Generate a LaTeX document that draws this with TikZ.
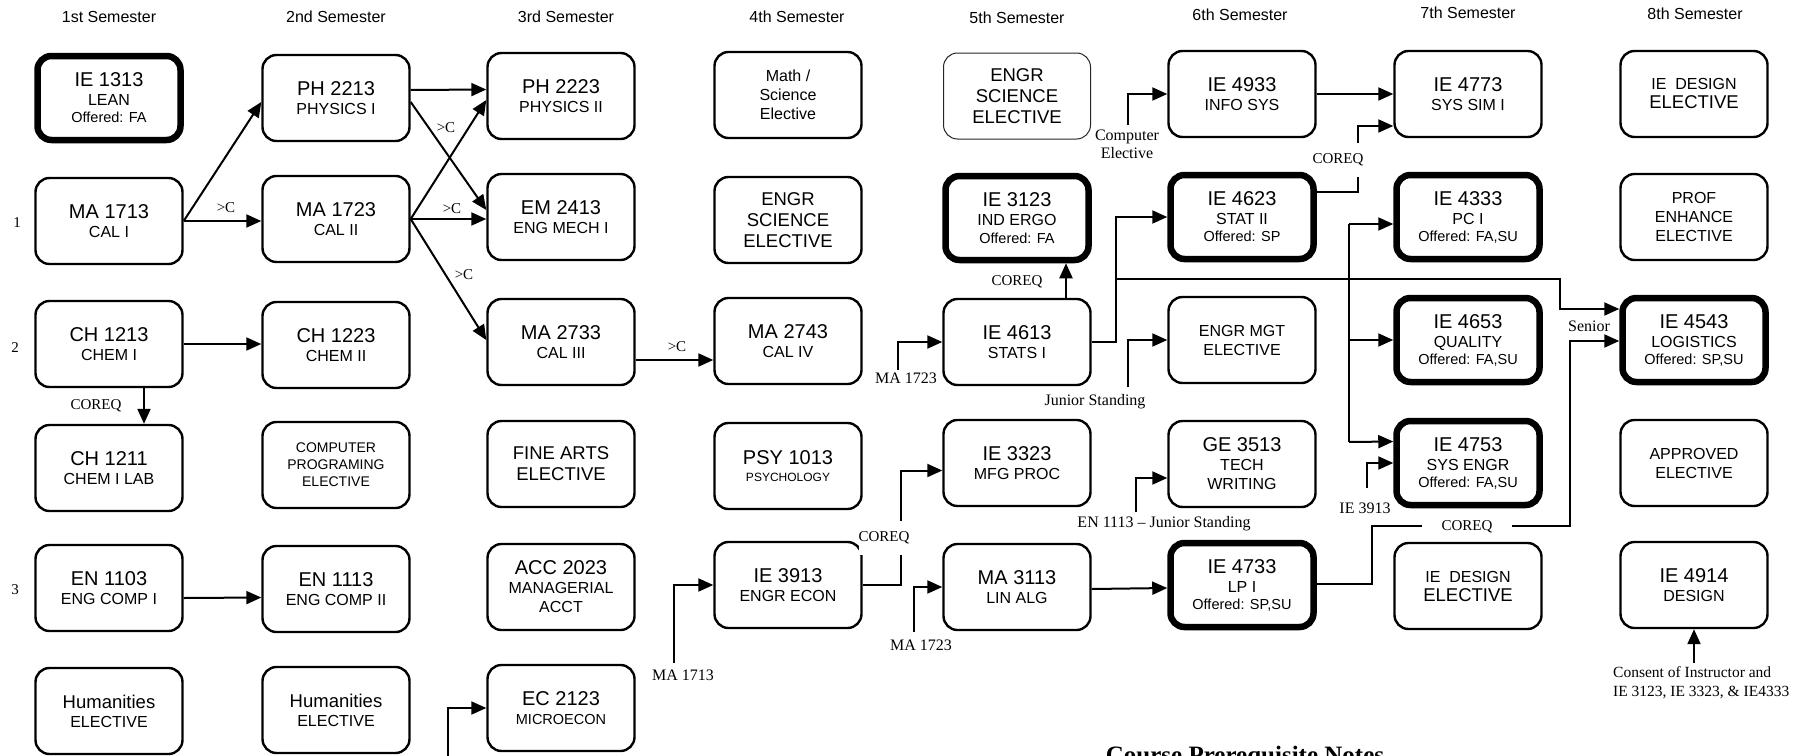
\documentclass[tikz,border=0pt]{standalone}
\usepackage{fontspec}
\setmainfont{Liberation Sans}
\newfontfamily\notefont{Liberation Serif}
\usetikzlibrary{arrows.meta,calc}
\newcommand\ccode[1]{{\fontsize{20}{22}\selectfont #1}}
\newcommand\offd[1]{{\fontsize{14.5}{17}\selectfont #1}}
\newcommand\bigt[1]{{\fontsize{18.5}{21}\selectfont #1}}
\tikzset{
 box/.style={draw, line width=2.4pt, rounded corners=14pt, minimum width=147pt, minimum height=86pt, align=center, inner sep=0pt, font=\fontsize{16}{19}\selectfont},
 tbox/.style={box, line width=6.5pt, minimum width=143pt, minimum height=84pt},
 lbox/.style={box, line width=1pt, draw=black!85},
 bigfont/.style={font=\fontsize{18.5}{21}\selectfont},
 arr/.style={line width=2pt, -{Triangle[length=15pt,width=13pt]}},
 ln/.style={line width=2pt},
 note/.style={font=\notefont\fontsize{16}{18}\selectfont, inner sep=1pt},
 cq/.style={font=\notefont\fontsize{15}{18}\selectfont, inner sep=1pt},
 sem/.style={font=\fontsize{16}{19}\selectfont, inner sep=0pt},
}
\begin{document}
\begin{tikzpicture}[x=1pt,y=-1pt]
\useasboundingbox (0,0) rectangle (1812,755);
\clip (0,0) rectangle (1812,755);
\fill[white] (0,0) rectangle (1812,755);
% headings
\node[sem] (h1) at (109,17) {1st Semester};
\node[sem] (h2) at (336,17) {2nd Semester};
\node[sem] (h3) at (566,17) {3rd Semester};
\node[sem] (h4) at (797,17) {4th Semester};
\node[sem] (h5) at (1017,18) {5th Semester};
\node[sem] (h6) at (1240,15) {6th Semester};
\node[sem] (h7) at (1468,13) {7th Semester};
\node[sem] (h8) at (1695,14) {8th Semester};
% row labels
\node[cq] (row1) at (17,223) {1};
\node[cq] (row2) at (15,348) {2};
\node[cq] (row3) at (15,590) {3};
% column 1
\node[tbox] (ie1313) at (109,98) {\ccode{IE 1313}\\LEAN\\[-2pt]\offd{Offered: FA}};
\node[box] (ma1713) at (109,221) {\ccode{MA 1713}\\CAL I};
\node[box] (ch1213) at (109,344) {\ccode{CH 1213}\\CHEM I};
\node[box] (ch1211) at (109,468) {\ccode{CH 1211}\\CHEM I LAB};
\node[box] (en1103) at (109,588) {\ccode{EN 1103}\\ENG COMP I};
\node[box] (hum1) at (109,711) {\bigt{Humanities}\\ELECTIVE};
% column 2
\node[box] (ph2213) at (336,98) {\ccode{PH 2213}\\PHYSICS I};
\node[box] (ma1723) at (336,219) {\ccode{MA 1723}\\CAL II};
\node[box] (ch1223) at (336,345) {\ccode{CH 1223}\\CHEM II};
\node[box, font=\fontsize{14}{17}\selectfont] (comp) at (336,465) {COMPUTER\\PROGRAMING\\ELECTIVE};
\node[box] (en1113) at (336,589) {\ccode{EN 1113}\\ENG COMP II};
\node[box] (hum2) at (336,710) {\bigt{Humanities}\\ELECTIVE};
% column 3
\node[box] (ph2223) at (561,96) {\ccode{PH 2223}\\PHYSICS II};
\node[box] (em2413) at (561,217) {\ccode{EM 2413}\\ENG MECH I};
\node[box] (ma2733) at (561,342) {\ccode{MA 2733}\\CAL III};
\node[box, bigfont] (finearts) at (561,464) {FINE ARTS\\ELECTIVE};
\node[box] (acc2023) at (561,587) {\ccode{ACC 2023}\\MANAGERIAL\\ACCT};
\node[box] (ec2123) at (561,708) {\ccode{EC 2123}\\\offd{MICROECON}};
% column 4
\node[box] (mathsci) at (788,95) {Math /\\Science\\Elective};
\node[box, bigfont] (engsci4) at (788,220) {ENGR\\SCIENCE\\ELECTIVE};
\node[box] (ma2743) at (788,341) {\ccode{MA 2743}\\CAL IV};
\node[box] (psy1013) at (788,466) {\ccode{PSY 1013}\\[-2pt]{\fontsize{12}{14}\selectfont PSYCHOLOGY}};
\node[box] (ie3913) at (788,585) {\ccode{IE 3913}\\ENGR ECON};
% column 5
\node[lbox, bigfont] (engsci5) at (1017,96) {ENGR\\SCIENCE\\ELECTIVE};
\node[tbox] (ie3123) at (1017,218) {\ccode{IE 3123}\\IND ERGO\\[-1pt]\offd{Offered: FA}};
\node[box] (ie4613) at (1017,342) {\ccode{IE 4613}\\STATS I};
\node[box] (ie3323) at (1017,463) {\ccode{IE 3323}\\MFG PROC};
\node[box] (ma3113) at (1017,587) {\ccode{MA 3113}\\LIN ALG};
% column 6
\node[box] (ie4933) at (1242,94) {\ccode{IE 4933}\\INFO SYS};
\node[tbox] (ie4623) at (1242,217) {\ccode{IE 4623}\\STAT II\\[-2pt]\offd{Offered: SP}};
\node[box] (engmgt) at (1242,340) {ENGR MGT\\ELECTIVE};
\node[box] (ge3513) at (1242,464) {\ccode{GE 3513}\\TECH\\WRITING};
\node[tbox] (ie4733) at (1242,585) {\ccode{IE 4733}\\LP I\\[-2pt]\offd{Offered: SP,SU}};
% column 7
\node[box] (ie4773) at (1468,94) {\ccode{IE 4773}\\SYS SIM I};
\node[tbox] (ie4333) at (1468,217) {\ccode{IE 4333}\\PC I\\[-2pt]\offd{Offered: FA,SU}};
\node[tbox] (ie4653) at (1468,340) {\ccode{IE 4653}\\QUALITY\\[-2pt]\offd{Offered: FA,SU}};
\node[tbox] (ie4753) at (1468,463) {\ccode{IE 4753}\\SYS ENGR\\[-2pt]\offd{Offered: FA,SU}};
\node[box] (iedes7) at (1468,586) {IE\ \ DESIGN\\\bigt{ELECTIVE}};
% column 8
\node[box] (iedes8) at (1694,94) {IE\ \ DESIGN\\\bigt{ELECTIVE}};
\node[box] (prof) at (1694,217) {PROF\\ENHANCE\\ELECTIVE};
\node[tbox] (ie4543) at (1694,340) {\ccode{IE 4543}\\LOGISTICS\\[-2pt]\offd{Offered: SP,SU}};
\node[box] (approved) at (1694,463) {APPROVED\\ELECTIVE};
\node[box] (ie4914) at (1694,585) {\ccode{IE 4914}\\DESIGN};
% connectors, semesters 1-3
\draw[arr] (ma1713.east) -- ($(ph2213.west)+(0,4)$);
\draw[arr] (ma1713.east) -- (ma1713.east -| ma1723.west);
\node[cq] (gc1) at (226,208) {>C};
\draw[arr] ($(ph2213.east)+(0,-8)$) -- ($(ph2223.west)+(0,-6.5)$);
\draw[arr] ($(ph2213.east)+(0,4)$) -- ($(em2413.west)+(0,-7)$);
\node[cq] (gc2) at (446,128) {>C};
\draw[arr] (ma1723.east) -- ($(ph2223.west)+(0,4)$);
\draw[arr] (ma1723.east) -- (ma1723.east -| em2413.west);
\node[cq] (gc3) at (452,209) {>C};
\draw[arr] (ma1723.east) -- ($(ma2733.west)+(0,-2)$);
\node[cq] (gc4) at (464,275) {>C};
\draw[arr] (ch1213.east) -- (ch1213.east -| ch1223.west);
\draw[arr] ($(ch1213.south)+(35,0)$) -- ($(ch1211.north)+(35,0)$);
\node[cq] (cq1) at (96,406) {COREQ};
\draw[arr] ($(en1103.east)+(0,10)$) -- ($(en1113.west)+(0,8.5)$);
\draw[arr] ($(ma2733.east)+(0,18)$) -- ($(ma2743.west)+(0,19)$);
\node[cq] (gc5) at (677,347) {>C};
\coordinate (ecsrc) at (448,760);
\draw[arr] (ecsrc) |- (ec2123.west);
% semesters 4-5
\coordinate (p1) at (674,663);
\draw[arr] (p1) |- (ie3913.west);
\node[note] (n1) at (683,675) {MA 1713};
\draw[arr] (ie3913.east) -- ++(38,0) |- ($(ie3323.west)+(0,7.5)$);
\node[cq, fill=white, inner xsep=0pt, minimum height=34pt] (cq2) at (884,538) {COREQ};
\coordinate (p2) at (914,632);
\draw[arr] (p2) |- (ma3113.west);
\node[note] (n2) at (921,645) {MA 1723};
\coordinate (p3) at (898,370);
\draw[arr] (p3) |- (ie4613.west);
\node[note] (n3) at (906,378) {MA 1723};
\draw[arr] ($(ie4613.north)+(49,0)$) -- ($(ie3123.south)+(49,0)$);
\node[cq] (cq3) at (1017,282) {COREQ};
% semester 6
\coordinate (p4) at (1128,125);
\draw[arr] (p4) |- (ie4933.west);
\node[note, align=center, font=\notefont\fontsize{16}{18}\selectfont] (n4) at (1127,144) {Computer\\Elective};
\draw[arr] (ie4933.east) -- (ie4773.west);
\draw[arr] ($(ie4623.east)+(0,-25.5)$) -- ++(41,0) |- ($(ie4773.west)+(0,32)$);
\node[cq, fill=white, inner xsep=0pt, minimum height=34pt] (cq4) at (1338,160) {COREQ};
\draw[arr] (ie4613.east) -- ++(24,0) |- (ie4623.west);
\coordinate (j1) at (1115,279);
\draw[arr] (j1) -- (1560,279) |- ($(ie4543.west)+(0,-31)$);
\coordinate (p5) at (1128,387);
\draw[arr] (p5) |- (engmgt.west);
\node[note] (n5) at (1095,402) {Junior Standing};
\coordinate (p6) at (1136,512);
\draw[arr] (p6) |- ($(ge3513.west)+(0,14)$);
\node[note] (n6) at (1164,524) {EN 1113 – Junior Standing};
\draw[arr] ($(ma3113.east)+(0,2)$) -- ($(ie4733.west)+(0,3)$);
% semester 7
\coordinate (t1) at (1349,224);
\coordinate (t2) at (1349,340);
\coordinate (t3) at (1349,442);
\draw[ln] (t1) -- (t3);
\draw[arr] (t1) -- ($(ie4333.west)+(0,7)$);
\draw[arr] (t2) -- (t2 -| ie4653.west);
\draw[arr] (t3) -- ($(ie4753.west)+(0,-21.5)$);
\coordinate (p7) at (1367,488);
\draw[arr] (p7) |- (ie4753.west);
\node[note] (n7) at (1365,508) {IE 3913};
\draw[arr] ($(ie4733.east)+(0,-1)$) -- (1372,584) |- (1570,526) |- ($(ie4543.west)+(0,1)$);
\node[cq, fill=white, minimum width=90pt, minimum height=20pt] (cq5) at (1467,527) {COREQ};
\node[note] (n8) at (1589,326) {Senior};
% semester 8
\coordinate (p8) at (1694,663);
\draw[arr] (p8) -- (ie4914.south);
\node[note, align=left, anchor=west, font=\notefont\fontsize{15.5}{19}\selectfont] (n9) at (1612,683) {Consent of Instructor and\\IE 3123, IE 3323, \& IE4333};
\node[font=\notefont\bfseries\fontsize{25}{30}\selectfont, anchor=base, inner sep=0pt] (cpn) at (1245,763) {Course Prerequisite Notes};
\end{tikzpicture}
\end{document}
